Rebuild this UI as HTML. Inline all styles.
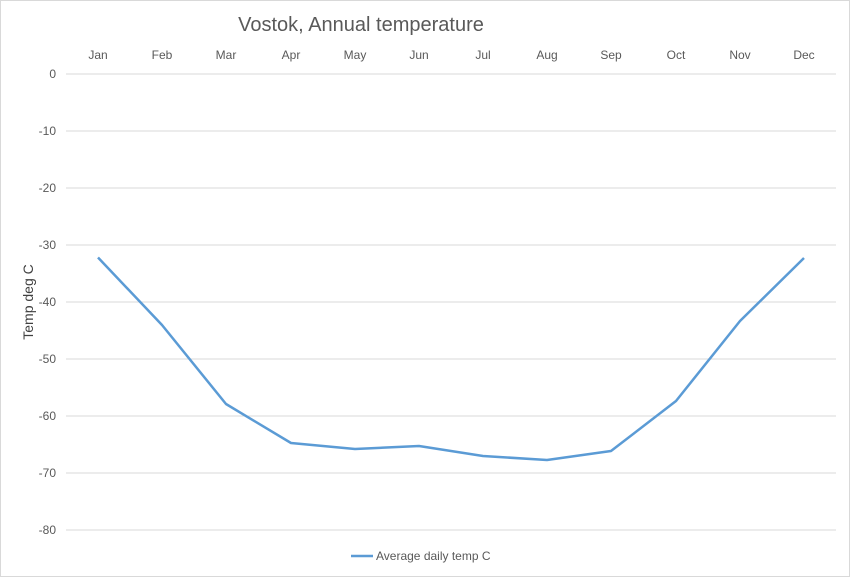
<!DOCTYPE html>
<html><head><style>body{margin:0;background:#fff}</style></head><body>
<svg width="850" height="577" xmlns="http://www.w3.org/2000/svg" font-family="Liberation Sans, sans-serif">
<rect x="0.5" y="0.5" width="849" height="576" fill="#fff" stroke="#d9d9d9"/>
<text x="361" y="31" font-size="20" fill="#595959" text-anchor="middle">Vostok, Annual temperature</text>
<g stroke="#d9d9d9" stroke-width="1">
<line x1="66" x2="836" y1="74" y2="74"/><line x1="66" x2="836" y1="131" y2="131"/>
<line x1="66" x2="836" y1="188" y2="188"/><line x1="66" x2="836" y1="245" y2="245"/>
<line x1="66" x2="836" y1="302" y2="302"/><line x1="66" x2="836" y1="359" y2="359"/>
<line x1="66" x2="836" y1="416" y2="416"/><line x1="66" x2="836" y1="473" y2="473"/>
<line x1="66" x2="836" y1="530" y2="530"/>
</g>
<g font-size="12" fill="#595959" text-anchor="end">
<text x="56" y="78">0</text><text x="56" y="135">-10</text><text x="56" y="192">-20</text>
<text x="56" y="249">-30</text><text x="56" y="306">-40</text><text x="56" y="363">-50</text>
<text x="56" y="420">-60</text><text x="56" y="477">-70</text><text x="56" y="534">-80</text>
</g>
<g font-size="12" fill="#595959" text-anchor="middle">
<text x="98" y="59">Jan</text><text x="162" y="59">Feb</text><text x="226" y="59">Mar</text>
<text x="291" y="59">Apr</text><text x="355" y="59">May</text><text x="419" y="59">Jun</text>
<text x="483" y="59">Jul</text><text x="547" y="59">Aug</text><text x="611" y="59">Sep</text>
<text x="676" y="59">Oct</text><text x="740" y="59">Nov</text><text x="804" y="59">Dec</text>
</g>
<text transform="translate(33,302) rotate(-90)" font-size="14" fill="#404040" text-anchor="middle">Temp deg C</text>
<polyline fill="none" stroke="#5b9bd5" stroke-width="2.5" stroke-linejoin="round" points="98,257.5 162,325 226,404 291,443 355,449 419,446 483,456 547,460 611,451 676,401 740,321 804,258"/>
<line x1="351" x2="373" y1="556" y2="556" stroke="#5b9bd5" stroke-width="2.5"/>
<text x="376" y="560" font-size="12" fill="#595959">Average daily temp C</text>
</svg>
</body></html>
